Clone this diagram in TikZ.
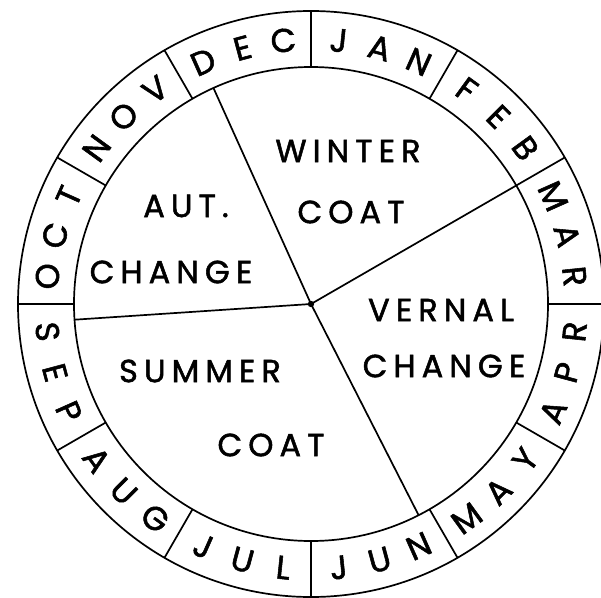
\documentclass[tikz,border=0pt]{standalone}
\usepackage{fontspec}
\usepackage{tikz}
\usetikzlibrary{calc}
\newfontfamily\lettering[LetterSpace=19, FakeBold=1.6]{Poppins}
\newfontfamily\ringfont[FakeBold=1.6]{Poppins}

\begin{document}
\begin{tikzpicture}[x=1pt, y=1pt, line width=1.7pt]
    \tikzstyle{season} = [font=\lettering\fontsize{32}{36}\selectfont, inner sep=0pt]
    \tikzstyle{letter} = [font=\ringfont\fontsize{33}{36}\selectfont, inner sep=0pt]

    \useasboundingbox (-311,-293) rectangle (290,304);

    % Rings
    \coordinate (c) at (0,0);
    \draw (c) circle (293);
    \draw (c) circle (237);
    \foreach \ang in {0,30,...,330}
        \draw (\ang:237) -- (\ang:293);

    % Seasons
    \draw (c) -- (114.3:237);
    \draw (c) -- (30:237);
    \draw (c) -- (-63:237);
    \draw (c) -- (183.8:237);
    \fill (c) circle (3.2);

    \node (winter) [season] at (37,153) {WINTER};
    \node (wcoat) [season] at (40,92) {COAT};
    \node (aut) [season] at (-125,98) {AUT.};
    \node (achange) [season] at (-140,32) {CHANGE};
    \node (vernal) [season] at (130,-6) {VERNAL};
    \node (vchange) [season] at (133,-62) {CHANGE};
    \node (summer) [season] at (-111,-67) {SUMMER};
    \node (scoat) [season] at (-40,-141) {COAT};

    % Months, upper half
    \foreach \a/\b/\c/\mid in {O/C/T/165, N/O/V/135, D/E/C/105, J/A/N/75, F/E/B/45, M/A/R/15} {
        \node[letter, rotate=\mid-81] at (\mid+9:265) {\a};
        \node[letter, rotate=\mid-90] at (\mid:265) {\b};
        \node[letter, rotate=\mid-99] at (\mid-9:265) {\c};
    }
    % Months, lower half
    \foreach \a/\b/\c/\mid in {A/P/R/-15, M/A/Y/-45, J/U/N/-75, J/U/L/-105, A/U/G/-135, S/E/P/-165} {
        \node[letter, rotate=\mid+81] at (\mid-9:265) {\a};
        \node[letter, rotate=\mid+90] at (\mid:265) {\b};
        \node[letter, rotate=\mid+99] at (\mid+9:265) {\c};
    }
\end{tikzpicture}
\end{document}
